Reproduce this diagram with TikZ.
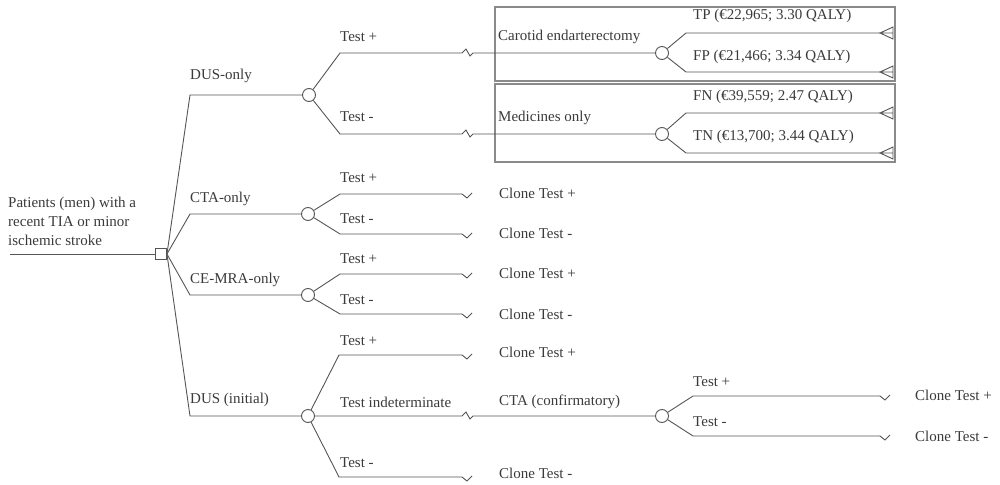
\documentclass[tikz,border=0pt]{standalone}
\usepackage{fontspec}
\setmainfont{Liberation Serif}
\definecolor{ink}{HTML}{3A3A3A}
\definecolor{edge}{HTML}{555555}
\definecolor{frame}{HTML}{8A8A8A}
\begin{document}
\begin{tikzpicture}[x=1pt,y=-1pt,
  every node/.style={font=\fontsize{15}{19}\selectfont, text=ink},
  lbl/.style={anchor=west, inner sep=0pt},
  branch/.style={draw=edge, line width=0.9pt},
  chance/.style={circle, draw=edge, fill=white, line width=0.9pt, minimum size=13pt, inner sep=0pt},
  decision/.style={rectangle, draw=edge, fill=white, line width=0.9pt, minimum size=11pt, inner sep=0pt},
  boxline/.style={draw=frame, line width=1.2pt},
  jagend/.pic={\draw[branch] (0,0) -- (5,4) -- (10,-1);},
  terminal/.pic={\draw[branch] (0,0) -- (13,0) (13,-6) -- (0,0) -- (13,6) -- cycle;}
]
\useasboundingbox (0,0) rectangle (1000,484);

% outcome frames
\draw[boxline] (495,7) rectangle (895,81);
\draw[boxline] (495,84) rectangle (895,162);

% root decision
\coordinate (start) at (10,254);
\node[decision] (root) at (161,254) {};
\draw[branch] (start) -- (root);
\node[lbl, align=left] at (8,221) {Patients (men) with a\\recent TIA or minor\\ischemic stroke};

% strategy chance nodes
\node[chance] (c1) at (309,95) {};
\node[chance] (c2) at (308,214) {};
\node[chance] (c3) at (308,295) {};
\node[chance] (c4) at (308,416) {};
\node[chance] (cE) at (662,53) {};
\node[chance] (cM) at (662,134) {};
\node[chance] (cF) at (662,416) {};

\draw[branch] (root.east) -- (190,95) -- (c1);
\draw[branch] (root.east) -- (190,214) -- (c2);
\draw[branch] (root.east) -- (190,295) -- (c3);
\draw[branch] (root.east) -- (190,416) -- (c4);

\node[lbl] at (190,76) {DUS-only};
\node[lbl] at (190,199) {CTA-only};
\node[lbl] at (190,280) {CE-MRA-only};
\node[lbl] at (190,400) {DUS (initial)};

% DUS-only
\draw[branch] (c1) -- (340,53) -- (462,53) -- ++(4,-4) -- ++(4,7) -- ++(3,-3) -- (cE);
\draw[branch] (c1) -- (340,134) -- (462,134) -- ++(4,-4) -- ++(4,7) -- ++(3,-3) -- (cM);
\node[lbl] at (340,37) {Test +};
\node[lbl] at (340,117) {Test -};
\node[lbl] at (498,37) {Carotid endarterectomy};
\node[lbl] at (498,118) {Medicines only};

\coordinate (tTP) at (880,33);
\coordinate (tFP) at (880,72);
\coordinate (tFN) at (880,113);
\coordinate (tTN) at (880,153);
\draw[branch] (cE) -- (686,33) -- (tTP);
\draw[branch] (cE) -- (686,72) -- (tFP);
\draw[branch] (cM) -- (686,113) -- (tFN);
\draw[branch] (cM) -- (686,153) -- (tTN);
\pic at (tTP) {terminal};
\pic at (tFP) {terminal};
\pic at (tFN) {terminal};
\pic at (tTN) {terminal};
\node[lbl] at (693,16) {TP (€22,965; 3.30 QALY)};
\node[lbl] at (693,57) {FP (€21,466; 3.34 QALY)};
\node[lbl] at (693,97) {FN (€39,559; 2.47 QALY)};
\node[lbl] at (693,137) {TN (€13,700; 3.44 QALY)};

% CTA-only
\coordinate (j1) at (462,194);
\coordinate (j2) at (462,234);
\draw[branch] (c2) -- (340,194) -- (j1);
\draw[branch] (c2) -- (340,234) -- (j2);
\pic at (j1) {jagend};
\pic at (j2) {jagend};
\node[lbl] at (340,178) {Test +};
\node[lbl] at (340,219) {Test -};
\node[lbl] at (499,193) {Clone Test +};
\node[lbl] at (499,233) {Clone Test -};

% CE-MRA-only
\coordinate (j3) at (462,274);
\coordinate (j4) at (462,314);
\draw[branch] (c3) -- (340,274) -- (j3);
\draw[branch] (c3) -- (340,314) -- (j4);
\pic at (j3) {jagend};
\pic at (j4) {jagend};
\node[lbl] at (340,259) {Test +};
\node[lbl] at (340,300) {Test -};
\node[lbl] at (499,273) {Clone Test +};
\node[lbl] at (499,314) {Clone Test -};

% DUS (initial)
\coordinate (j5) at (462,355);
\coordinate (j6) at (462,477);
\draw[branch] (c4) -- (339,355) -- (j5);
\draw[branch] (c4) -- (339,477) -- (j6);
\draw[branch] (c4) -- (462,416) -- ++(4,-4) -- ++(4,7) -- ++(3,-3) -- (cF);
\pic at (j5) {jagend};
\pic at (j6) {jagend};
\node[lbl] at (340,341) {Test +};
\node[lbl] at (340,402) {Test indeterminate};
\node[lbl] at (340,463) {Test -};
\node[lbl] at (499,352) {Clone Test +};
\node[lbl] at (499,402) {CTA (confirmatory)};
\node[lbl] at (499,473) {Clone Test -};

% CTA (confirmatory)
\coordinate (j7) at (880,396);
\coordinate (j8) at (880,436);
\draw[branch] (cF) -- (693,396) -- (j7);
\draw[branch] (cF) -- (693,436) -- (j8);
\pic at (j7) {jagend};
\pic at (j8) {jagend};
\node[lbl] at (693,382) {Test +};
\node[lbl] at (693,422) {Test -};
\node[lbl] at (915,395) {Clone Test +};
\node[lbl] at (915,436) {Clone Test -};
\end{tikzpicture}
\end{document}
